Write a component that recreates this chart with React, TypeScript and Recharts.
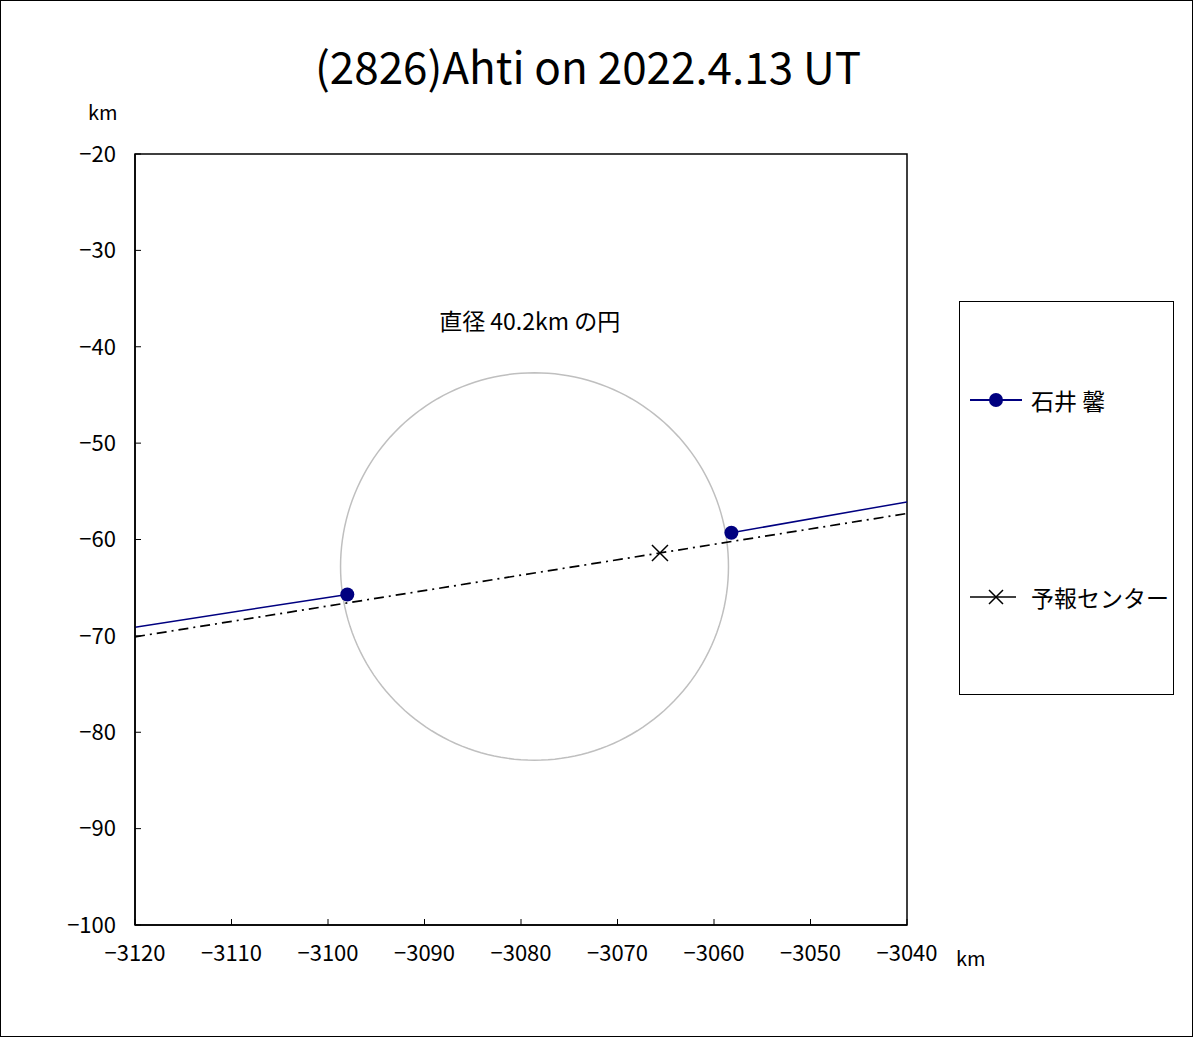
import {
  ComposedChart,
  Legend,
  Line,
  ReferenceArea,
  ReferenceDot,
  Scatter,
  XAxis,
  YAxis,
} from "recharts";

const FONT = '"Noto Sans CJK JP", "Noto Sans", sans-serif';

const title = "(2826)Ahti on 2022.4.13 UT";
const observerName = "石井 馨";
const predictionName = "予報センター";
const circleLabel = "直径 40.2km の円";

const xTicks = [-3120, -3110, -3100, -3090, -3080, -3070, -3060, -3050, -3040];
const yTicks = [-20, -30, -40, -50, -60, -70, -80, -90, -100];

// observed chord ends (blue), track outside the chord
const observedPoints = [
  { x: -3098.0, y: -65.7 },
  { x: -3058.2, y: -59.3 },
];
const observedTrack = [
  { x: -3120, y: -69.1 },
  { x: -3098.0, y: -65.7 },
  { x: -3078, y: null },
  { x: -3058.2, y: -59.3 },
  { x: -3040, y: -56.1 },
];

// predicted center line
const predictionTrack = [
  { x: -3120, y: -70.1 },
  { x: -3040, y: -57.3 },
];
const predictionCenter = [{ x: -3065.6, y: -61.4 }];

// circle of diameter 40.2 km
const circleCenter = { x: -3078.6, y: -62.8 };
const circleDiameter = 40.2;
const circleSteps = 180;
const circlePoints = Array.from({ length: circleSteps + 1 }, (_, i) => {
  const a = (i / circleSteps) * Math.PI * 2;
  return {
    x: circleCenter.x + (circleDiameter / 2) * Math.cos(a),
    y: circleCenter.y + (circleDiameter / 2) * Math.sin(a),
  };
});

const fmt = (v: number) => String(v).replace("-", "\u2212");

const Cross = (props: any) => {
  const { cx, cy } = props;
  const s = 8;
  return (
    <path
      d={`M${cx - s},${cy - s}L${cx + s},${cy + s}M${cx - s},${cy + s}L${cx + s},${cy - s}`}
      stroke="#000"
      strokeWidth={1.5}
      fill="none"
    />
  );
};

const Dot = (props: any) => <circle cx={props.cx} cy={props.cy} r={7} fill="#000080" />;

const LegendBox = () => (
  <div
    style={{
      width: 215,
      height: 394,
      border: "1px solid #000",
      boxSizing: "border-box",
      position: "relative",
      fontFamily: FONT,
      fontSize: 23,
      lineHeight: "26px",
      background: "#fff",
    }}
  >
    <div style={{ position: "absolute", left: 10, top: 85, display: "flex", alignItems: "center" }}>
      <svg width={54} height={26}>
        <line x1={0} y1={13} x2={52} y2={13} stroke="#000080" strokeWidth={2} />
        <circle cx={26} cy={13} r={7} fill="#000080" />
      </svg>
      <span style={{ marginLeft: 7 }}>{observerName}</span>
    </div>
    <div style={{ position: "absolute", left: 10, top: 282, display: "flex", alignItems: "center" }}>
      <svg width={54} height={26}>
        <line x1={0} y1={13} x2={46} y2={13} stroke="#000" strokeWidth={1.5} />
        <path d="M19,6L33,20M19,20L33,6" stroke="#000" strokeWidth={1.5} />
      </svg>
      <span style={{ marginLeft: 7 }}>{predictionName}</span>
    </div>
  </div>
);

export default function App() {
  return (
    <div
      style={{
        position: "absolute",
        left: 0,
        top: 0,
        width: 1193,
        height: 1037,
        background: "#fff",
        fontFamily: FONT,
      }}
    >
      <div
        style={{
          position: "absolute",
          left: 0,
          top: 0,
          width: 1193,
          height: 1037,
          border: "1px solid #000",
          boxSizing: "border-box",
          pointerEvents: "none",
          zIndex: 2,
        }}
      />
      <div
        style={{
          position: "absolute",
          left: 0,
          width: 1176,
          top: 38,
          textAlign: "center",
          fontSize: 44,
          lineHeight: "54px",
          color: "#000",
        }}
      >
        {title}
      </div>
      <div style={{ position: "absolute", left: 88, top: 100, fontSize: 20, lineHeight: "24px" }}>km</div>
      <div style={{ position: "absolute", left: 956, top: 946, fontSize: 20, lineHeight: "24px" }}>km</div>
      <ComposedChart
        width={1193}
        height={1037}
        margin={{ top: 154, right: 286, bottom: 72, left: 75 }}
        style={{ position: "absolute", left: 0, top: 0 }}
      >
        <XAxis
          type="number"
          dataKey="x"
          domain={[-3120, -3040]}
          ticks={xTicks}
          allowDataOverflow
          tickFormatter={fmt}
          height={40}
          tickSize={-6}
          tickMargin={26}
          tick={{ fill: "#000", fontSize: 22, fontFamily: FONT }}
          axisLine={{ stroke: "#000", strokeWidth: 1.5 }}
          tickLine={{ stroke: "#000" }}
        />
        <YAxis
          type="number"
          dataKey="y"
          domain={[-100, -20]}
          ticks={yTicks}
          allowDataOverflow
          tickFormatter={fmt}
          width={60}
          tickSize={-6}
          tickMargin={25}
          tick={{ fill: "#000", fontSize: 22, fontFamily: FONT }}
          axisLine={{ stroke: "#000", strokeWidth: 1.5 }}
          tickLine={{ stroke: "#000" }}
        />
        <ReferenceArea
          x1={-3120}
          x2={-3040}
          y1={-100}
          y2={-20}
          fill="none"
          stroke="#000"
          strokeWidth={1.5}
          ifOverflow="visible"
        />
        <Line
          data={circlePoints}
          dataKey="y"
          type="linear"
          stroke="#bfbfbf"
          strokeWidth={1.5}
          dot={false}
          activeDot={false}
          legendType="none"
          isAnimationActive={false}
        />
        <Line
          data={predictionTrack}
          dataKey="y"
          name={predictionName}
          type="linear"
          stroke="#000"
          strokeWidth={1.7}
          strokeDasharray="10 5 2 5"
          dot={false}
          activeDot={false}
          isAnimationActive={false}
        />
        <Scatter
          data={predictionCenter}
          dataKey="y"
          shape={<Cross />}
          legendType="none"
          isAnimationActive={false}
        />
        <Line
          data={observedTrack}
          dataKey="y"
          name={observerName}
          type="linear"
          stroke="#000080"
          strokeWidth={1.5}
          connectNulls={false}
          dot={false}
          activeDot={false}
          isAnimationActive={false}
        />
        <Scatter
          data={observedPoints}
          dataKey="y"
          fill="#000080"
          shape={<Dot />}
          legendType="none"
          isAnimationActive={false}
        />
        <ReferenceDot
          x={-3079.1}
          y={-37.4}
          r={0}
          ifOverflow="visible"
          label={{ value: circleLabel, position: "center", fill: "#000", fontSize: 23, fontFamily: FONT }}
        />
        <Legend
          layout="vertical"
          align="center"
          verticalAlign="middle"
          content={() => <LegendBox />}
          wrapperStyle={{ left: 959, top: 301, width: 215, height: 394 }}
        />
      </ComposedChart>
    </div>
  );
}
